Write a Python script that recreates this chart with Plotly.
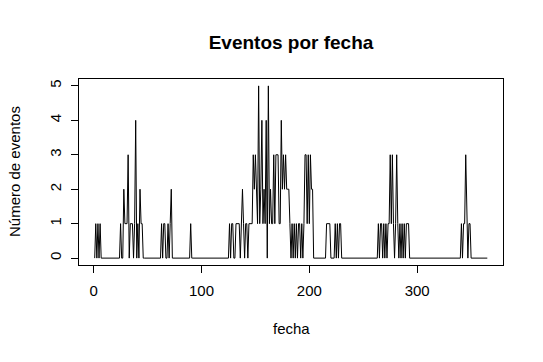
import plotly.graph_objects as go

# Day index (1..365) and number of events per day
fecha = list(range(1, 366))
eventos = [
    0, 1, 0, 1, 0, 1, 0, 0, 0, 0,   # 1-10
    0, 0, 0, 0, 0, 0, 0, 0, 0, 0,   # 11-20
    0, 0, 0, 0, 1, 0, 0, 2, 1, 1,   # 21-30
    1, 3, 0, 1, 1, 1, 0, 1, 4, 0,   # 31-40
    1, 0, 2, 1, 1, 0, 0, 0, 0, 0,   # 41-50
    0, 0, 0, 0, 0, 0, 0, 0, 0, 0,   # 51-60
    0, 0, 1, 0, 1, 1, 0, 0, 1, 0,   # 61-70
    1, 2, 0, 0, 0, 0, 0, 0, 0, 0,   # 71-80
    0, 0, 0, 0, 0, 0, 0, 0, 0, 1,   # 81-90
    0, 0, 0, 0, 0, 0, 0, 0, 0, 0,   # 91-100
    0, 0, 0, 0, 0, 0, 0, 0, 0, 0,   # 101-110
    0, 0, 0, 0, 0, 0, 0, 0, 0, 0,   # 111-120
    0, 0, 0, 0, 0, 1, 0, 1, 1, 0,   # 121-130
    0, 1, 1, 1, 1, 0, 1, 2, 1, 0,   # 131-140
    1, 1, 0, 1, 1, 1, 1, 3, 2, 3,   # 141-150
    2, 1, 5, 1, 2, 4, 1, 2, 1, 4,   # 151-160
    0, 5, 1, 2, 1, 1, 3, 1, 3, 3,   # 161-170
    3, 1, 1, 4, 2, 3, 2, 3, 2, 2,   # 171-180
    2, 1, 0, 1, 0, 1, 0, 1, 0, 1,   # 181-190
    1, 0, 1, 0, 1, 3, 3, 1, 3, 1,   # 191-200
    3, 2, 2, 0, 0, 0, 0, 0, 0, 0,   # 201-210
    0, 0, 0, 0, 0, 1, 1, 1, 1, 0,   # 211-220
    0, 0, 0, 1, 0, 1, 0, 1, 1, 0,   # 221-230
    0, 0, 0, 0, 0, 0, 0, 0, 0, 0,   # 231-240
    0, 0, 0, 0, 0, 0, 0, 0, 0, 0,   # 241-250
    0, 0, 0, 0, 0, 0, 0, 0, 0, 0,   # 251-260
    0, 0, 0, 1, 0, 1, 1, 0, 1, 0,   # 261-270
    1, 0, 1, 1, 3, 1, 3, 1, 0, 1,   # 271-280
    3, 1, 0, 1, 0, 1, 0, 1, 0, 1,   # 281-290
    1, 1, 0, 0, 0, 0, 0, 0, 0, 0,   # 291-300
    0, 0, 0, 0, 0, 0, 0, 0, 0, 0,   # 301-310
    0, 0, 0, 0, 0, 0, 0, 0, 0, 0,   # 311-320
    0, 0, 0, 0, 0, 0, 0, 0, 0, 0,   # 321-330
    0, 0, 0, 0, 0, 0, 0, 0, 0, 0,   # 331-340
    1, 0, 1, 1, 3, 1, 0, 1, 1, 0,   # 341-350
    0, 0, 0, 0, 0, 0, 0, 0, 0, 0,   # 351-360
    0, 0, 0, 0, 0,                  # 361-365
]

x_ticks = [0, 100, 200, 300]
y_ticks = [0, 1, 2, 3, 4, 5]

FONT = "Liberation Sans, Arial, Helvetica, sans-serif"
W, H = 543, 362
L, R, T, B = 79, 40, 79, 97
FS = 15

fig = go.Figure()
fig.add_trace(go.Scatter(x=fecha, y=eventos, mode="lines",
                         line=dict(color="black", width=1),
                         hoverinfo="skip", showlegend=False))

span = fecha[-1] - fecha[0]
xr = [fecha[0] - 0.04 * span, fecha[-1] + 0.04 * span]
ymax = max(eventos)
yr = [-0.04 * ymax, ymax * 1.04]

fig.update_layout(
    width=W, height=H,
    margin=dict(l=L, r=R, t=T, b=B, autoexpand=False),
    paper_bgcolor="white", plot_bgcolor="white",
    font=dict(family=FONT, size=FS, color="black"),
    title=dict(text="<b>Eventos por fecha</b>", x=0.5, xref="paper",
               y=1 - 42 / H, yref="container", yanchor="middle",
               xanchor="center", font=dict(size=19, family=FONT, color="black")),
    xaxis=dict(range=xr, tickvals=x_ticks, ticktext=[str(v) for v in x_ticks],
               ticks="outside", ticklen=7, tickcolor="black", tickwidth=1,
               showline=True, mirror=True, linecolor="black", linewidth=1,
               showgrid=False, zeroline=False, ticklabelstandoff=5,
               tickfont=dict(size=FS)),
    yaxis=dict(range=yr, tickvals=y_ticks, ticktext=[str(v) for v in y_ticks],
               ticks="outside", ticklen=7, tickcolor="black", tickwidth=1,
               showline=True, mirror=True, linecolor="black", linewidth=1,
               showgrid=False, zeroline=False, tickangle=-90,
               ticklabelstandoff=4, tickfont=dict(size=FS)),
    annotations=[
        dict(text="fecha", x=0.5, xref="paper",
             y=(H - 328 - B) / (H - T - B), yref="paper",
             showarrow=False, font=dict(size=FS), xanchor="center", yanchor="middle"),
        dict(text="Número de eventos", x=(14 - L) / (W - L - R), xref="paper",
             y=0.5, yref="paper", textangle=-90, showarrow=False,
             font=dict(size=FS), xanchor="center", yanchor="middle"),
    ],
)

fig.write_html("out.html", config={"displayModeBar": False, "staticPlot": True})

# remove the browser's default page margin so the figure sits at (0, 0)
with open("out.html", "r", encoding="utf-8") as f:
    html = f.read()
html = html.replace("<head>", "<head><style>html,body{margin:0;padding:0;overflow:hidden;}</style>", 1)
with open("out.html", "w", encoding="utf-8") as f:
    f.write(html)
